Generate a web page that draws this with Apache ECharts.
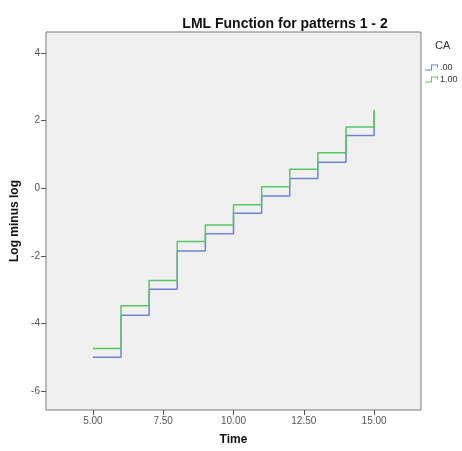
<!DOCTYPE html>
<html>
<head>
<meta charset="utf-8">
<script src="https://cdn.jsdelivr.net/npm/echarts@6/dist/echarts.min.js"></script>
<style>
  html, body { margin: 0; padding: 0; background: #fff; }
  #chart { width: 462px; height: 451px; }
</style>
</head>
<body>
<div id="chart"></div>
<script>
// survival times where the step changes
const times = [5, 6, 7, 8, 9, 10, 11, 12, 13, 14, 15]
// log minus log values for CA = .00 and CA = 1.00
const lmlCa0 = [-5.0, -3.76, -2.99, -1.86, -1.35, -0.74, -0.23, 0.29, 0.77, 1.56, 2.25]
const lmlCa1 = [-4.74, -3.48, -2.73, -1.58, -1.09, -0.49, 0.04, 0.56, 1.05, 1.81, 2.32]
const xTicks = [5, 7.5, 10, 12.5, 15]
const yTicks = [-6, -4, -2, 0, 2, 4]
const groupNames = ['.00', '1.00']

// little step glyph used in the legend
const stepIcon = 'path://M0,5 h6 v-5 h7 v3 h-1 v-2 h-5 v5 h-7 z'

const chart = echarts.init(document.getElementById('chart'))
chart.setOption({
  animation: false,
  textStyle: { fontFamily: 'Liberation Sans, Arial, sans-serif' },
  title: {
    text: 'LML Function for patterns 1 - 2',
    left: 280,
    textAlign: 'center',
    top: 12,
    textStyle: { fontSize: 14, fontWeight: 'bold', color: '#111' }
  },
  graphic: [{
    type: 'text',
    left: 435,
    top: 40,
    style: { text: 'CA', fontSize: 11, fill: '#333', fontFamily: 'Liberation Sans, Arial, sans-serif' }
  }],
  legend: {
    orient: 'vertical',
    left: 420,
    top: 58,
    itemGap: 3,
    itemWidth: 15,
    itemHeight: 6,
    data: groupNames.map(n => ({ name: n, icon: stepIcon })),
    textStyle: { fontSize: 9, color: '#333', padding: [0, 0, 0, -4] }
  },
  grid: {
    left: 46,
    right: 41,
    top: 32,
    bottom: 41,
    show: true,
    backgroundColor: '#f0f0f0',
    borderColor: '#7a7a7a',
    borderWidth: 1
  },
  xAxis: {
    type: 'value',
    min: 5 - 5 / 3,
    max: 15 + 5 / 3,
    name: 'Time',
    nameLocation: 'middle',
    nameGap: 24,
    nameTextStyle: { fontSize: 12, fontWeight: 'bold', color: '#111' },
    axisLine: { show: false, onZero: false },
    axisTick: { show: true, customValues: xTicks, length: 5, lineStyle: { color: '#555' } },
    axisLabel: {
      customValues: xTicks,
      formatter: v => v.toFixed(2),
      fontSize: 10,
      color: '#555',
      margin: 6
    },
    splitLine: { show: false }
  },
  yAxis: {
    type: 'value',
    min: -6.56,
    max: 4.62,
    name: 'Log minus log',
    nameLocation: 'middle',
    nameGap: 19,
    nameTextStyle: { fontSize: 12, fontWeight: 'bold', color: '#111' },
    axisLine: { show: false, onZero: false },
    axisTick: { show: true, customValues: yTicks, length: 5, lineStyle: { color: '#555' } },
    axisLabel: {
      customValues: yTicks,
      fontSize: 10,
      color: '#555',
      margin: 6
    },
    splitLine: { show: false }
  },
  series: [
    {
      name: groupNames[0],
      type: 'line',
      step: 'end',
      showSymbol: false,
      color: '#6f83d4',
      lineStyle: { width: 1.5 },
      data: times.map((t, i) => [t, lmlCa0[i]])
    },
    {
      name: groupNames[1],
      type: 'line',
      step: 'end',
      showSymbol: false,
      color: '#55c864',
      lineStyle: { width: 1.5 },
      data: times.map((t, i) => [t, lmlCa1[i]])
    }
  ]
})
</script>
</body>
</html>
